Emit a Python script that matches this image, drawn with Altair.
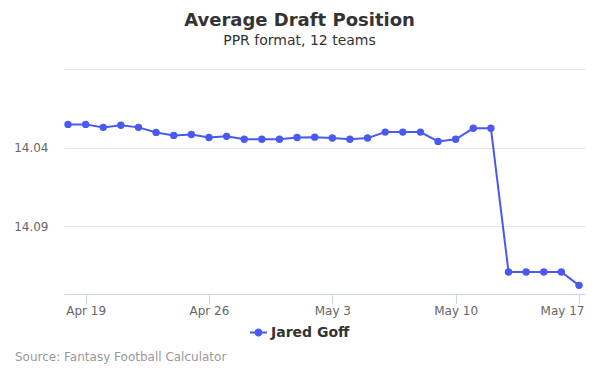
import altair as alt
import pandas as pd

dates = pd.date_range("2019-04-18", "2019-05-17", freq="D").strftime("%Y-%m-%d").tolist()
adp = [14.0252, 14.0252, 14.0271, 14.0258, 14.0271, 14.0303, 14.0322, 14.0316,
       14.0335, 14.0328, 14.0347, 14.0347, 14.0347, 14.0335, 14.0333, 14.0339,
       14.0347, 14.0339, 14.0301, 14.0301, 14.0301, 14.0360, 14.0347, 14.0277,
       14.0277, 14.1190, 14.1190, 14.1190, 14.1190, 14.1275]
player = ["Jared Goff"] * len(dates)
y_ticks = [13.99, 14.04, 14.09]
x_ticks = ["2019-04-19", "2019-04-26", "2019-05-03", "2019-05-10", "2019-05-17"]

COLOR = "#4a5af0"
FONT = "DejaVu Sans"

df = pd.DataFrame({"date": dates, "adp": adp, "player": player})

def dt(s, h=0, m=0):
    y, mo, d = map(int, s.split("-"))
    return alt.DateTime(year=y, month=mo, date=d, hours=h, minutes=m, utc=True)

x_enc = alt.X(
    "date:T",
    scale=alt.Scale(type="utc", domain=[dt("2019-04-17", 18, 33), dt("2019-05-17", 8, 10)]),
    axis=alt.Axis(
        title=None, values=[dt(s) for s in x_ticks], format="%b %-d", grid=False,
        domainColor="#ccd6eb", tickColor="#ccd6eb", tickSize=10, labelColor="#666666",
        labelFontSize=12, labelPadding=1, labelFont=FONT,
        labelFlush=10, labelFlushOffset=5,
    ),
)
y_enc = alt.Y(
    "adp:Q",
    scale=alt.Scale(domain=[13.99, 14.133], reverse=True, nice=False, zero=False),
    axis=alt.Axis(
        title=None, values=y_ticks, domain=False, ticks=False, gridColor="#e6e6e6",
        labelColor="#666666", labelFontSize=12, labelPadding=16, labelFont=FONT,
        labelExpr="datum.value < 14 ? '' : format(datum.value, '.2f')",
    ),
)

legend_path = ("M-1,-0.12 L1,-0.12 L1,0.12 L-1,0.12 Z "
               "M-0.47,0 A0.47,0.47 0 1,1 0.47,0 A0.47,0.47 0 1,1 -0.47,0 Z")
color_enc = alt.Color(
    "player:N",
    scale=alt.Scale(range=[COLOR]),
    legend=alt.Legend(
        title=None, orient="none", legendX=186, legendY=255, symbolType=legend_path,
        symbolSize=289, symbolFillColor=COLOR, symbolStrokeWidth=0, symbolOpacity=1,
        labelFontSize=14, labelFontWeight="bold", labelColor="#333333", labelFont=FONT,
        labelOffset=4,
    ),
)

base = alt.Chart(df).encode(x=x_enc, y=y_enc, color=color_enc)
line = base.mark_line(strokeWidth=2)
points = base.mark_point(filled=True, size=55, opacity=1)

source = alt.Chart(pd.DataFrame({"t": ["Source: Fantasy Football Calculator"]})).mark_text(
    align="left", baseline="middle", fontSize=12, color="#999999", font=FONT
).encode(x=alt.value(-49), y=alt.value(288), text="t:N")

chart = alt.layer(line, points, source).properties(
    width=521, height=225,
    title=alt.TitleParams(
        "Average Draft Position", subtitle="PPR format, 12 teams", anchor="middle",
        dx=-25, offset=21, fontSize=18, fontWeight="bold", color="#333333", font=FONT,
        subtitleFontSize=14, subtitleColor="#333333", subtitleFont=FONT, subtitlePadding=4,
    ),
    autosize=alt.AutoSizeParams(type="none"),
    padding={"left": 56, "top": 61, "right": 7, "bottom": 73},
).configure_view(stroke=None)

chart.save("out.html", embed_options={"renderer": "svg", "actions": False})
